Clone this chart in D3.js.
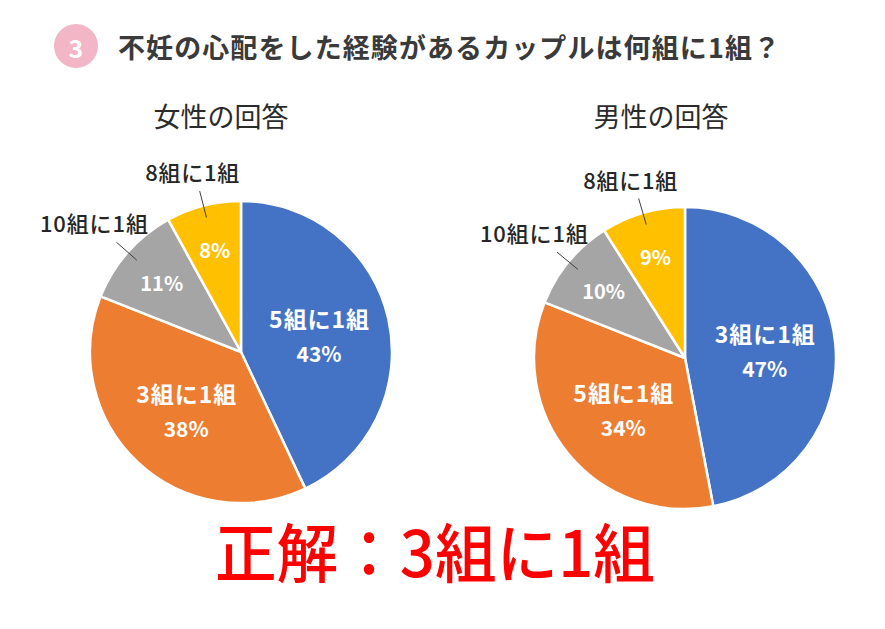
<!DOCTYPE html>
<html><head><meta charset="utf-8">
<script src="https://cdn.jsdelivr.net/npm/d3@7/dist/d3.min.js"></script>
<style>
html,body{margin:0;padding:0;background:#fff;}
svg{display:block;font-family:"Noto Sans CJK JP","Noto Sans",sans-serif;}
</style></head>
<body><svg id="chart" width="885" height="629"></svg>
<script>
const titleNumber = "3";
const titleText = "不妊の心配をした経験があるカップルは何組に1組？";
const answerText = "正解：3組に1組";
const femaleTitle = "女性の回答";
const maleTitle = "男性の回答";
const femaleCategories = ["5組に1組","3組に1組","10組に1組","8組に1組"];
const femaleValues = [43,38,11,8];
const maleCategories = ["3組に1組","5組に1組","10組に1組","8組に1組"];
const maleValues = [47,34,10,9];
const sliceColors = ["#4472C4","#ED7D31","#A5A5A5","#FFC000"];

const svg = d3.select("#chart");

// header
svg.append("circle").attr("cx",76).attr("cy",46).attr("r",22).attr("fill","#F2B6C6");
svg.append("text").attr("x",76).attr("y",47).attr("text-anchor","middle")
  .attr("dominant-baseline","central").attr("fill","#fff").attr("font-weight","bold")
  .attr("font-size",25).text(titleNumber);
svg.append("text").attr("x",118).attr("y",46).attr("dominant-baseline","central")
  .attr("fill","#3a3a3a").attr("font-weight","bold").attr("font-size",27)
  .attr("textLength",662).attr("lengthAdjust","spacing").text(titleText);

// answer
svg.append("text").attr("x",215).attr("y",549).attr("dominant-baseline","central")
  .attr("fill","#FF0000").attr("font-weight",500).attr("font-size",64)
  .attr("textLength",440).attr("lengthAdjust","spacingAndGlyphs").text(answerText);

function drawPie(cx, cy, R, cats, vals, title, titleX) {
  svg.append("text").attr("x",titleX).attr("y",115).attr("text-anchor","middle")
    .attr("dominant-baseline","central").attr("fill","#2b2b2b").attr("font-size",27)
    .text(title);
  const data = cats.map((c,i)=>({c, v: vals[i], i}));
  const pie = d3.pie().sort(null).value(d=>d.v);
  const arcs = pie(data);
  const arc = d3.arc().innerRadius(0).outerRadius(R);
  const g = svg.append("g").attr("transform",`translate(${cx},${cy})`);
  g.selectAll("path").data(arcs).join("path")
    .attr("d",arc).attr("fill",d=>sliceColors[d.data.i])
    .attr("stroke","#fff").attr("stroke-width",2.5).attr("stroke-linejoin","round");
  const pt = (a, r) => [Math.sin(a)*r, -Math.cos(a)*r];
  arcs.forEach(d=>{
    const mid = (d.startAngle+d.endAngle)/2;
    const big = d.data.v > 20;
    if (big) {
      const [x,y] = pt(mid, R*0.53);
      g.append("text").attr("x",x).attr("y",y-17).attr("text-anchor","middle")
        .attr("dominant-baseline","central").attr("fill","#fff").attr("font-weight","bold")
        .attr("font-size",23).attr("textLength",100).attr("lengthAdjust","spacing").text(d.data.c);
      g.append("text").attr("x",x).attr("y",y+18).attr("text-anchor","middle")
        .attr("dominant-baseline","central").attr("fill","#fff").attr("font-weight","bold")
        .attr("font-size",21).text(d.data.v+"%");
    } else {
      const [x,y] = pt(mid, R*0.70);
      g.append("text").attr("x",x).attr("y",y).attr("text-anchor","middle")
        .attr("dominant-baseline","central").attr("fill","#fff").attr("font-weight","bold")
        .attr("font-size",20).text(d.data.v+"%");
      const [x1,y1] = pt(mid, R*0.92);
      const [x2,y2] = pt(mid, R*1.10);
      g.append("line").attr("x1",x1).attr("y1",y1).attr("x2",x2).attr("y2",y2)
        .attr("stroke","#404040").attr("stroke-width",1);
      const lx = x2 + Math.sin(mid)*30, ly = y2 - 20;
      const wide = d.data.c.length > 5;
      g.append("text").attr("x",lx).attr("y",ly).attr("text-anchor","middle")
        .attr("dominant-baseline","central").attr("fill","#262626").attr("font-weight",500)
        .attr("font-size",22).attr("textLength", wide ? 108 : 94).attr("lengthAdjust","spacing")
        .text(d.data.c);
    }
  });
}
drawPie(241, 352, 151, femaleCategories, femaleValues, femaleTitle, 221);
drawPie(685, 358, 151, maleCategories, maleValues, maleTitle, 661);
</script></body></html>
